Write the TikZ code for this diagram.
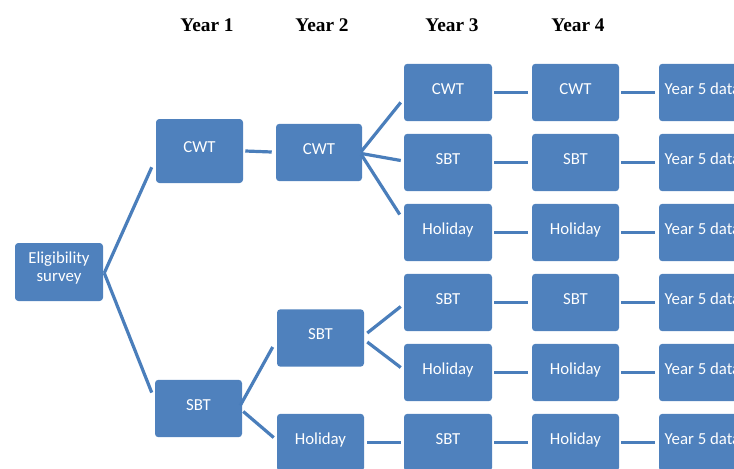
\documentclass[tikz,border=0pt]{standalone}
\usepackage{fontspec}
\newfontfamily\boxfont{Carlito}
\newfontfamily\headfont{Liberation Serif}
\usetikzlibrary{calc}
\definecolor{boxblue}{HTML}{4F81BD}
\definecolor{lineblue}{HTML}{4A7EBB}
\begin{document}
\begin{tikzpicture}[x=0.75pt,y=-0.75pt,
  box/.style={rounded corners=2.5pt, fill=boxblue, text=white, inner sep=0pt,
    minimum width=65.25pt, minimum height=43pt,
    font=\boxfont\fontsize{12.6pt}{13.5pt}\selectfont,
    text height=9pt, text depth=6.1pt},
  plain/.style={text=white, inner sep=0pt, align=center,
    font=\boxfont\fontsize{12.6pt}{13.5pt}\selectfont},
  head/.style={anchor=base, inner sep=0pt,
    font=\headfont\bfseries\fontsize{14.5pt}{16pt}\selectfont},
  conn/.style={draw=lineblue, line width=2.4pt}]
\path[use as bounding box] (0,0) rectangle (734,468);
\clip (0,0) rectangle (734,468);

% headers
\node[head] (y1) at (207,31) {Year 1};
\node[head] (y2) at (322,31) {Year 2};
\node[head] (y3) at (452,31) {Year 3};
\node[head] (y4) at (578,31) {Year 4};

% boxes
\node[box, minimum width=66pt, minimum height=43.5pt] (e) at (59,272) {};
\node[plain] (etext) at (59,268.5) {Eligibility\\survey};
\node[box, minimum height=48pt] (c1) at (199.5,151) {CWT};
\node[box] (s1) at (198.5,408.5) {SBT};
\node[box, minimum width=64.5pt] (c2) at (319,152.5) {CWT};
\node[box] (s2) at (320.5,338) {SBT};
\node[box] (h2) at (320.5,442.5) {Holiday};

\node[box, minimum width=66pt] (c3a) at (448,92.5) {CWT};
\node[box, minimum width=66pt] (c3b) at (448,162.5) {SBT};
\node[box, minimum width=66pt] (c3c) at (448,232.5) {Holiday};
\node[box, minimum width=66pt] (c3d) at (448,302.5) {SBT};
\node[box, minimum width=66pt] (c3e) at (448,372.5) {Holiday};
\node[box, minimum width=66pt] (c3f) at (448,442.5) {SBT};

\node[box] (c4a) at (575.5,92.5) {CWT};
\node[box] (c4b) at (575.5,162.5) {SBT};
\node[box] (c4c) at (575.5,232.5) {Holiday};
\node[box] (c4d) at (575.5,302.5) {SBT};
\node[box] (c4e) at (575.5,372.5) {Holiday};
\node[box] (c4f) at (575.5,442.5) {Holiday};

\foreach \r/\yy in {a/92.5,b/162.5,c/232.5,d/302.5,e/372.5,f/442.5}{
  \node[box] (c5\r) at (702.5,\yy) {Year 5 data};
}

% tree connectors
\draw[conn] ($(e.east)+(1,1)$) -- ($(c1.south west)+(-4,-16)$);
\draw[conn] ($(e.east)+(1,1)$) -- ($(s1.north west)+(-3,13)$);
\draw[conn] ($(c1.east)+(2,0)$) -- ($(c2.west)+(-4,-0.5)$);
\draw[conn] ($(c2.east)+(-1,-1)$) -- ($(c3a.south west)+(-3,-19)$);
\draw[conn] ($(c2.east)+(-1,1)$) -- ($(c3b.west)+(-3,-2)$);
\draw[conn] ($(c2.east)+(-1,2)$) -- ($(c3c.north west)+(-4,11)$);
\draw[conn] ($(s1.east)+(-2,-3)$) -- ($(s2.west)+(-4,9)$);
\draw[conn] ($(s1.east)+(1,3)$) -- ($(h2.north west)+(-3,24)$);
\draw[conn] ($(s2.east)+(3,-5)$) -- ($(c3d.west)+(-3,4)$);
\draw[conn] ($(s2.east)+(3,4)$) -- ($(c3e.west)+(-3,-5)$);
\draw[conn] ($(h2.east)+(3,0)$) -- ($(c3f.west)+(-3,0)$);

% row connectors
\foreach \r in {a,b,c,d,e,f}{
  \draw[conn] ($(c3\r.east)+(2,0)$) -- ($(c4\r.west)+(-4,0)$);
  \draw[conn] ($(c4\r.east)+(2,0)$) -- ($(c5\r.west)+(-4,0)$);
}
\end{tikzpicture}
\end{document}
